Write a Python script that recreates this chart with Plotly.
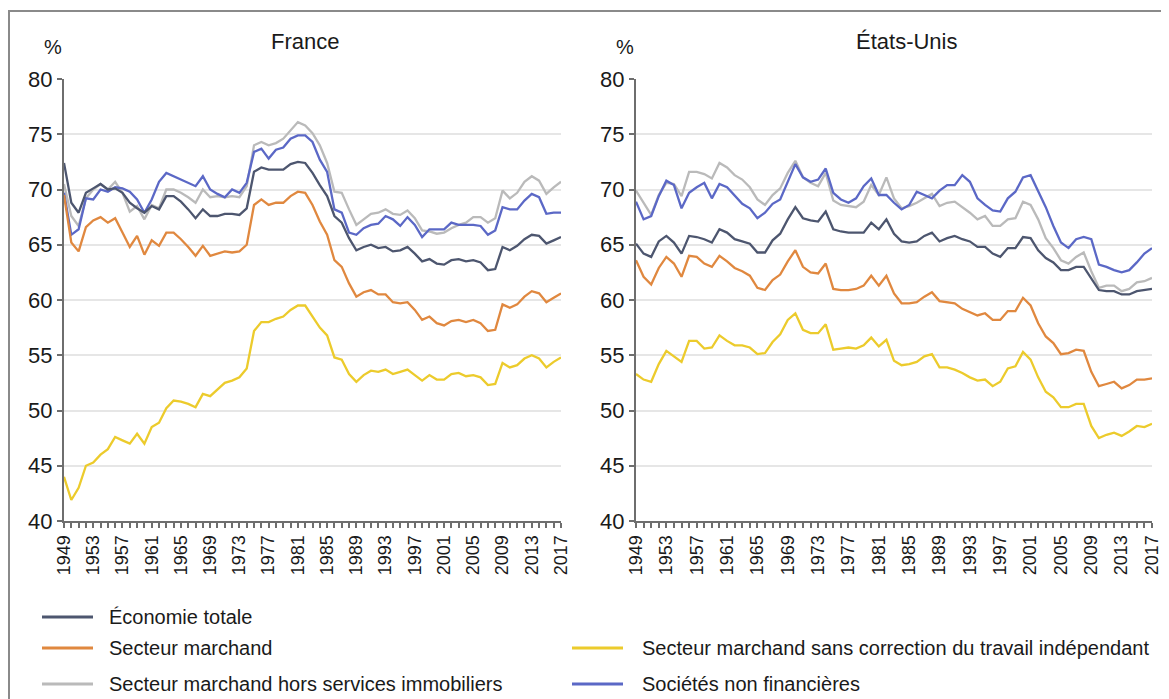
import plotly.graph_objects as go

W, H = 1169, 699
OFF = 8  # default page margin of the HTML body
FW, FH = W - OFF, H - OFF

years = list(range(1949, 2018))
tick_years = list(range(1949, 2018, 4))

series_names = [
    "Économie totale",
    "Secteur marchand",
    "Secteur marchand hors services immobiliers",
    "Secteur marchand sans correction du travail indépendant",
    "Sociétés non financières",
]

# ---------------- France ----------------
fr_eco = [72.4, 68.8, 67.9, 69.7, 70.1, 70.5, 70.0, 70.1, 69.7, 68.8, 68.3, 67.9, 68.5, 68.2, 69.4, 69.4, 68.9, 68.2,
          67.4, 68.2, 67.6, 67.6, 67.8, 67.8, 67.7, 68.3, 71.6, 72.0, 71.8, 71.8, 71.8, 72.3, 72.5, 72.4, 71.5, 70.4,
          69.4, 67.6, 67.0, 65.6, 64.5, 64.8, 65.0, 64.7, 64.8, 64.4, 64.5, 64.8, 64.2, 63.5, 63.7, 63.3, 63.2, 63.6,
          63.7, 63.5, 63.6, 63.4, 62.7, 62.8, 64.8, 64.5, 64.9, 65.5, 65.9, 65.8, 65.1, 65.4, 65.7]
fr_march = [69.5, 65.2, 64.4, 66.6, 67.2, 67.5, 67.0, 67.4, 66.1, 64.8, 65.8, 64.1, 65.4, 64.9, 66.1, 66.1, 65.5, 64.8,
            64.0, 64.9, 64.0, 64.2, 64.4, 64.3, 64.4, 65.0, 68.6, 69.1, 68.6, 68.8, 68.8, 69.4, 69.8, 69.7, 68.6, 67.1,
            65.9, 63.6, 63.0, 61.5, 60.3, 60.7, 60.9, 60.5, 60.5, 59.8, 59.7, 59.8, 59.1, 58.2, 58.5, 57.9, 57.7, 58.1,
            58.2, 58.0, 58.2, 57.9, 57.2, 57.3, 59.6, 59.3, 59.6, 60.3, 60.8, 60.6, 59.8, 60.2, 60.6]
fr_hors_immo = [70.5, 67.6, 66.7, 69.2, 70.0, 70.5, 70.0, 70.7, 69.7, 68.0, 68.5, 67.3, 68.6, 68.3, 70.0, 70.0, 69.7,
                69.3, 68.8, 70.0, 69.3, 69.4, 69.3, 69.4, 69.3, 70.3, 74.0, 74.3, 74.0, 74.2, 74.6, 75.4, 76.1, 75.8,
                75.1, 74.0, 72.4, 69.8, 69.7, 68.2, 66.8, 67.3, 67.8, 67.9, 68.2, 67.8, 67.7, 68.1, 67.4, 66.3, 66.2,
                66.0, 66.1, 66.5, 66.8, 67.0, 67.5, 67.5, 67.0, 67.4, 69.9, 69.2, 69.7, 70.7, 71.2, 70.8, 69.6, 70.2,
                70.7]
fr_sans_corr = [44.0, 41.9, 43.0, 45.0, 45.3, 46.0, 46.5, 47.6, 47.3, 47.0, 47.9, 47.0, 48.5, 48.9, 50.2, 50.9, 50.8,
                50.6, 50.3, 51.5, 51.3, 51.9, 52.5, 52.7, 53.0, 53.8, 57.2, 58.0, 58.0, 58.3, 58.5, 59.1, 59.5, 59.5,
                58.5, 57.5, 56.8, 54.8, 54.6, 53.3, 52.6, 53.2, 53.6, 53.5, 53.7, 53.3, 53.5, 53.7, 53.2, 52.7, 53.2,
                52.8, 52.8, 53.3, 53.4, 53.1, 53.2, 53.0, 52.3, 52.4, 54.3, 53.9, 54.1, 54.7, 55.0, 54.7, 53.9, 54.4,
                54.8]
fr_snf = [69.7, 65.9, 66.4, 69.2, 69.1, 70.0, 69.8, 70.2, 70.1, 69.8, 69.1, 67.9, 69.1, 70.7, 71.5, 71.2, 70.9, 70.6,
          70.3, 71.2, 70.0, 69.6, 69.3, 70.0, 69.7, 70.6, 73.4, 73.7, 72.8, 73.6, 73.8, 74.6, 74.9, 74.9, 74.3, 72.7,
          71.6, 68.2, 67.9, 66.1, 65.9, 66.5, 66.8, 66.9, 67.6, 67.3, 66.7, 67.5, 66.8, 65.7, 66.4, 66.4, 66.4, 67.0,
          66.8, 66.8, 66.8, 66.7, 65.9, 66.3, 68.4, 68.2, 68.2, 69.0, 69.6, 69.3, 67.8, 67.9, 67.9]

# ---------------- États-Unis ----------------
us_eco = [65.1, 64.2, 63.9, 65.3, 65.8, 65.2, 64.2, 65.8, 65.7, 65.5, 65.2, 66.4, 66.1, 65.5, 65.3, 65.1, 64.3, 64.3,
          65.4, 66.0, 67.3, 68.4, 67.4, 67.2, 67.1, 68.0, 66.4, 66.2, 66.1, 66.1, 66.1, 67.0, 66.4, 67.3, 66.0,
          65.3, 65.2, 65.3, 65.8, 66.1, 65.3, 65.6, 65.8, 65.5, 65.3, 64.8, 64.8, 64.2, 63.9, 64.7, 64.7, 65.7, 65.6,
          64.5, 63.8, 63.4, 62.7, 62.7, 63.0, 63.0, 62.0, 60.9, 60.8, 60.8, 60.5, 60.5, 60.8, 60.9, 61.0]
us_march = [63.6, 62.1, 61.4, 62.9, 63.9, 63.3, 62.1, 64.0, 63.9, 63.3, 63.0, 64.0, 63.5, 62.9, 62.6, 62.2, 61.1, 60.9,
            61.8, 62.3, 63.5, 64.5, 63.0, 62.5, 62.4, 63.3, 61.0, 60.9, 60.9, 61.0, 61.3, 62.2, 61.3, 62.2, 60.6,
            59.7, 59.7, 59.8, 60.3, 60.7, 59.9, 59.8, 59.7, 59.2, 58.9, 58.6, 58.8, 58.2, 58.2, 59.0, 59.0, 60.2, 59.5,
            57.9, 56.7, 56.1, 55.1, 55.2, 55.5, 55.4, 53.5, 52.2, 52.4, 52.6, 52.0, 52.3, 52.8, 52.8, 52.9]
us_hors_immo = [69.9, 68.8, 67.7, 69.5, 70.6, 70.5, 69.4, 71.6, 71.6, 71.4, 71.0, 72.4, 72.0, 71.3, 70.9, 70.2, 69.1,
                68.6, 69.5, 70.1, 71.5, 72.6, 71.1, 70.6, 70.3, 71.5, 69.0, 68.6, 68.5, 68.4, 68.9, 70.4, 69.5, 71.1,
                69.2, 68.3, 68.5, 68.8, 69.2, 69.6, 68.5, 68.8, 68.9, 68.4, 67.9, 67.3, 67.6, 66.7, 66.7, 67.3, 67.4,
                68.9, 68.6, 67.3, 65.6, 64.7, 63.6, 63.3, 63.9, 64.3, 62.6, 61.1, 61.3, 61.3, 60.8, 61.0, 61.6, 61.7,
                62.0]
us_sans_corr = [53.3, 52.8, 52.6, 54.2, 55.4, 54.9, 54.4, 56.3, 56.3, 55.6, 55.7, 56.8, 56.3, 55.9, 55.9, 55.7, 55.1,
                55.2, 56.2, 56.9, 58.2, 58.8, 57.3, 57.0, 57.0, 57.8, 55.5, 55.6, 55.7, 55.6, 55.9, 56.6, 55.8, 56.4,
                54.5, 54.1, 54.2, 54.4, 54.9, 55.1, 53.9, 53.9, 53.7, 53.4, 53.0, 52.7, 52.8, 52.2, 52.6, 53.8, 54.0,
                55.3, 54.6, 53.0, 51.7, 51.2, 50.3, 50.3, 50.6, 50.6, 48.6, 47.5, 47.8, 48.0, 47.7, 48.1, 48.6, 48.5,
                48.8]
us_snf = [68.9, 67.3, 67.6, 69.4, 70.8, 70.4, 68.3, 69.7, 70.2, 70.6, 69.2, 70.5, 70.2, 69.4, 68.7, 68.3, 67.4, 67.9,
          68.7, 69.1, 70.7, 72.3, 71.1, 70.7, 70.9, 71.9, 69.7, 69.1, 68.8, 69.2, 70.3, 71.0, 69.5, 69.5, 68.8,
          68.2, 68.6, 69.8, 69.5, 69.2, 69.9, 70.4, 70.4, 71.3, 70.7, 69.2, 68.6, 68.1, 68.0, 69.2, 69.8, 71.1, 71.3,
          69.8, 68.4, 66.7, 65.2, 64.7, 65.5, 65.7, 65.5, 63.2, 63.0, 62.7, 62.5, 62.7, 63.4, 64.2, 64.7]

colors = {
    series_names[0]: "#4d566f",
    series_names[1]: "#e0883f",
    series_names[2]: "#bababa",
    series_names[3]: "#eccb2c",
    series_names[4]: "#5b68c6",
}

FONT = "Liberation Sans, Arial, sans-serif"


def px(x):
    """Page pixel x -> paper fraction (figure starts at the body margin)."""
    return (x - OFF) / FW


def py(y):
    return 1 - (y - OFF) / FH


fig = go.Figure()

panels = [
    ("x", "y", [fr_eco, fr_march, fr_hors_immo, fr_sans_corr, fr_snf]),
    ("x2", "y2", [us_eco, us_march, us_hors_immo, us_sans_corr, us_snf]),
]
draw_order = [2, 4, 1, 3, 0]
for xa, ya, data in panels:
    for i in draw_order:
        fig.add_trace(go.Scatter(
            x=years, y=data[i], mode="lines", name=series_names[i],
            line=dict(color=colors[series_names[i]], width=2.3),
            xaxis=xa, yaxis=ya, showlegend=False, hoverinfo="x+y+name",
        ))

xaxis_common = dict(
    range=[1949, 2017], tickmode="array", tickvals=tick_years, ticktext=[str(t) for t in tick_years],
    tickangle=-90, ticks="outside", ticklen=5, tickwidth=1.5, tickcolor="#6e6e6e",
    showline=True, linecolor="#6e6e6e", linewidth=2, showgrid=False, zeroline=False,
    tickfont=dict(family=FONT, size=18, color="#1a1a1a"),
    minor=dict(tickmode="linear", tick0=1949, dtick=1, ticks="outside", ticklen=5, tickwidth=1.5,
               tickcolor="#6e6e6e", showgrid=False),
    fixedrange=True,
)
yaxis_common = dict(
    range=[40, 80], tickmode="linear", tick0=40, dtick=5, ticks="outside", ticklen=5, tickwidth=1.5,
    tickcolor="#6e6e6e", showline=True, linecolor="#6e6e6e", linewidth=2, showgrid=True,
    gridcolor="#e6e6e6", gridwidth=2, zeroline=False,
    tickfont=dict(family=FONT, size=22, color="#1a1a1a"),
    fixedrange=True,
)

y_dom = [py(521), py(79)]
fig.update_layout(
    width=FW, height=FH,
    margin=dict(l=0, r=0, t=0, b=0),
    paper_bgcolor="white", plot_bgcolor="white",
    template="none",
    showlegend=False,
    font=dict(family=FONT, color="#1a1a1a"),
    xaxis=dict(domain=[px(64), px(561)], anchor="y", **xaxis_common),
    yaxis=dict(domain=y_dom, anchor="x", **yaxis_common),
    xaxis2=dict(domain=[px(636), px(1152)], anchor="y2", **xaxis_common),
    yaxis2=dict(domain=y_dom, anchor="x2", **yaxis_common),
)

annotations = [
    dict(text="France", x=px(305), y=py(42), xanchor="center", yanchor="middle",
         font=dict(family=FONT, size=22, color="#1a1a1a")),
    dict(text="États-Unis", x=px(906), y=py(42), xanchor="center", yanchor="middle",
         font=dict(family=FONT, size=22, color="#1a1a1a")),
    dict(text="%", x=px(53), y=py(47), xanchor="center", yanchor="middle",
         font=dict(family=FONT, size=20, color="#1a1a1a")),
    dict(text="%", x=px(625), y=py(47), xanchor="center", yanchor="middle",
         font=dict(family=FONT, size=20, color="#1a1a1a")),
]

shapes = [
    dict(type="rect", xref="paper", yref="paper", x0=px(9), y0=py(11), x1=px(1200), y1=py(760),
         line=dict(color="#8a8a8a", width=2), fillcolor="rgba(0,0,0,0)", layer="below"),
]

# legend (drawn manually to reproduce the two-column arrangement)
legend_items = [
    (series_names[0], 42, 93, 107, 617),
    (series_names[1], 42, 93, 107, 648),
    (series_names[2], 42, 93, 107, 684),
    (series_names[3], 572, 623, 640, 648),
    (series_names[4], 572, 623, 640, 684),
]
for name, lx0, lx1, tx, ly in legend_items:
    shapes.append(dict(type="line", xref="paper", yref="paper", x0=px(lx0), x1=px(lx1), y0=py(ly), y1=py(ly),
                       line=dict(color=colors[name], width=3)))
    annotations.append(dict(text=name, x=px(tx), y=py(ly), xanchor="left", yanchor="middle", showarrow=False,
                            font=dict(family=FONT, size=20, color="#1a1a1a")))

for a in annotations:
    a.setdefault("showarrow", False)
    a["xref"] = "paper"
    a["yref"] = "paper"

fig.update_layout(annotations=annotations, shapes=shapes)

fig.write_html("out.html")
